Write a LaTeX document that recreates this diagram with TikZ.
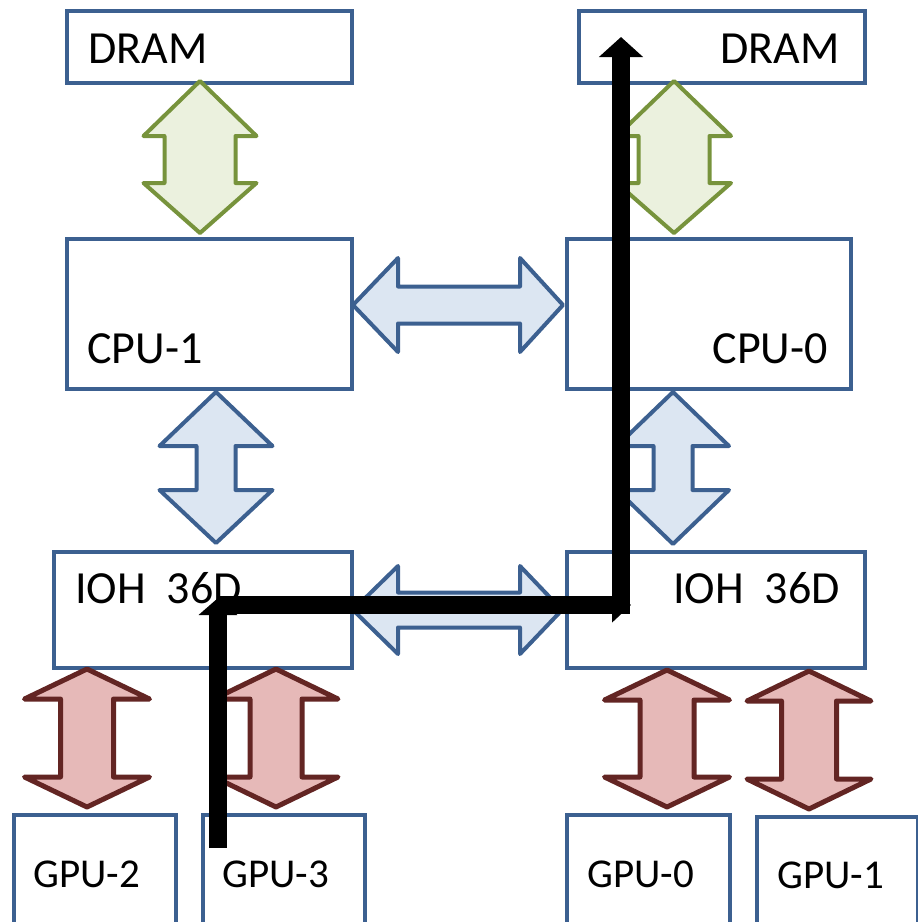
\documentclass[tikz,border=0pt]{standalone}
\usepackage{fontspec}
\setmainfont{Carlito}
\usetikzlibrary{arrows.meta}
\definecolor{bxblue}{HTML}{3C6090}
\definecolor{flblue}{HTML}{DCE6F2}
\definecolor{bdgreen}{HTML}{77933C}
\definecolor{flgreen}{HTML}{EBF1DE}
\definecolor{bdred}{HTML}{632523}
\definecolor{flred}{HTML}{E6B9B8}
% vertical double block arrow: style, cx, ytop, ybot, head half, shaft half, top head len, bottom head len
\newcommand\vdarr[8]{%
\draw[#1] (#2,#3) -- (#2+#5,#3+#7) -- (#2+#6,#3+#7) -- (#2+#6,#4-#8) -- (#2+#5,#4-#8) -- (#2,#4)
 -- (#2-#5,#4-#8) -- (#2-#6,#4-#8) -- (#2-#6,#3+#7) -- (#2-#5,#3+#7) -- cycle;}
% horizontal double block arrow: style, cy, xleft, xright, head half, shaft half, left head len, right head len
\newcommand\hdarr[8]{%
\draw[#1] (#3,#2) -- (#3+#7,#2-#5) -- (#3+#7,#2-#6) -- (#4-#8,#2-#6) -- (#4-#8,#2-#5) -- (#4,#2)
 -- (#4-#8,#2+#5) -- (#4-#8,#2+#6) -- (#3+#7,#2+#6) -- (#3+#7,#2+#5) -- cycle;}
\begin{document}
\begin{tikzpicture}[x=1pt,y=-1pt,
  box/.style={draw=bxblue,line width=4pt,fill=white,inner sep=0pt,anchor=north west},
  lbl/.style={inner sep=0pt,font=\fontsize{46}{50}\selectfont},
  glbl/.style={inner sep=0pt,font=\fontsize{41}{45}\selectfont},
  garr/.style={draw=bdgreen,fill=flgreen,line width=4pt,line join=round},
  barr/.style={draw=bxblue,fill=flblue,line width=4pt,line join=round},
  rarr/.style={draw=bdred,fill=flred,line width=5pt,line join=round},
  blk/.style={draw=black,line width=18.5pt,line cap=butt}]
\useasboundingbox (0,0) rectangle (918,922);
% boxes
\node[box,minimum width=285pt,minimum height=72pt] (dramL) at (65,9) {};
\node[box,minimum width=286pt,minimum height=72pt] (dramR) at (577,9) {};
\node[box,minimum width=285pt,minimum height=150pt] (cpu1) at (65,237) {};
\node[box,minimum width=284pt,minimum height=150pt] (cpu0) at (565,237) {};
\node[box,minimum width=298pt,minimum height=116pt] (iohL) at (52,550) {};
\node[box,minimum width=298pt,minimum height=116pt] (iohR) at (565,550) {};
\node[box,minimum width=162pt,minimum height=115pt] (gpu2) at (12,813) {};
\node[box,minimum width=162pt,minimum height=115pt] (gpu3) at (201,813) {};
\node[box,minimum width=163pt,minimum height=115pt] (gpu0) at (565,813) {};
\node[box,minimum width=161pt,minimum height=113pt] (gpu1) at (755,815) {};
% labels
\node[lbl,anchor=base west] (tdramL) at (88,63) {DRAM};
\node[lbl,anchor=base east] (tdramR) at (840,63) {DRAM};
\node[lbl,anchor=base west] (tcpu1) at (87,363) {CPU-1};
\node[lbl,anchor=base east] (tcpu0) at (828,363) {CPU-0};
\node[lbl,anchor=base west] (tiohL) at (75,603) {IOH\ \ 36D};
\node[lbl,anchor=base west] (tiohR) at (673,603) {IOH\ \ 36D};
\node[glbl,anchor=base west] (tgpu2) at (33,887) {GPU-2};
\node[glbl,anchor=base west] (tgpu3) at (222,887) {GPU-3};
\node[glbl,anchor=base west] (tgpu0) at (587,887) {GPU-0};
\node[glbl,anchor=base west] (tgpu1) at (777,888) {GPU-1};
% block arrows
\vdarr{garr}{200}{81}{233}{56.5}{35.5}{55}{50}
\vdarr{garr}{674}{81}{233}{57}{35.5}{55}{50}
\hdarr{barr}{305}{353}{563}{47}{18.5}{45}{43}
\vdarr{barr}{216}{392}{543}{56.5}{19.5}{54}{53}
\vdarr{barr}{673}{392}{544}{56}{19.5}{54}{54}
\hdarr{barr}{610}{353}{562}{44}{17.5}{45}{42}
\vdarr{rarr}{87}{669}{807}{62.5}{26.5}{30}{30}
\vdarr{rarr}{276}{669}{807}{62}{26}{30}{30}
\vdarr{rarr}{667}{670}{807}{62.5}{27}{30}{30}
\vdarr{rarr}{809}{671}{809}{62}{27.5}{30}{30}
% black path
\coordinate (p0) at (218,848);
\coordinate (p1) at (218,598);
\coordinate (p2) at (218,605);
\coordinate (p3) at (631,605);
\coordinate (p4) at (621,614);
\coordinate (p5) at (621,37);
\draw[blk,-{Triangle[length=17pt,width=38pt]}] (p0) -- (p1);
\draw[blk,-{Triangle[length=19pt,width=34pt]}] (p2) -- (p3);
\draw[blk,-{Triangle[length=20pt,width=43pt]}] (p4) -- (p5);
\end{tikzpicture}
\end{document}
